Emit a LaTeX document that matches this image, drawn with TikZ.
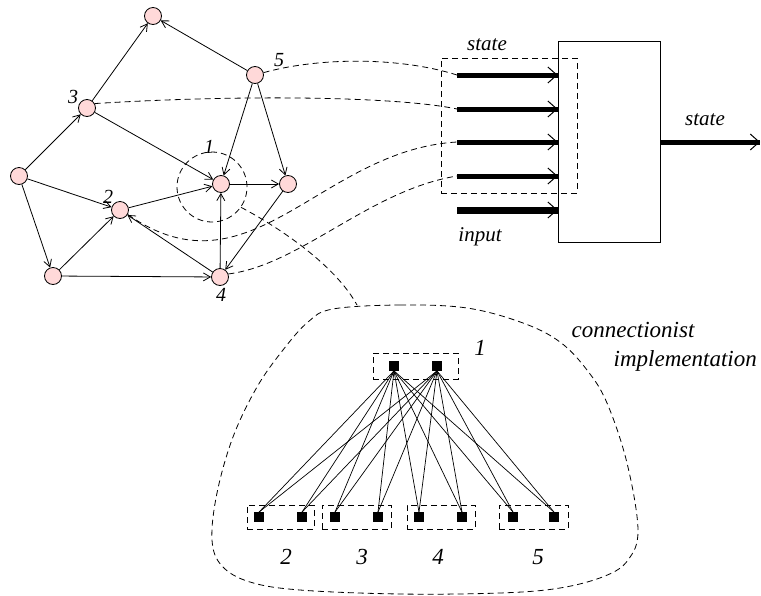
\documentclass[tikz,border=0pt]{standalone}
\usepackage{fontspec}
\setmainfont{Liberation Serif}
\usetikzlibrary{arrows.meta, positioning}

\begin{document}
\begin{tikzpicture}[x=1pt, y=-1pt, line width=0.8pt,
    every node/.style={font={\fontsize{21}{24}\selectfont\itshape}},
    >={Straight Barb[length=7pt, width=8pt]},
    vert/.style={draw, circle, fill=red!15, minimum size=17pt, inner sep=0pt},
    unit/.style={draw, fill=black, minimum size=9pt, inner sep=0pt},
    group/.style={draw, dash pattern=on 6pt off 4pt, line width=0.7pt, inner sep=0pt},
    link/.style={dash pattern=on 6pt off 4pt, line width=0.8pt},
    small/.style={font={\fontsize{20}{24}\selectfont\itshape}},
    big/.style={font={\fontsize{23}{27}\selectfont\itshape}},
    bus/.style={line width=5pt, postaction={draw, line width=1pt, -{Straight Barb[length=9pt, width=16pt]}}}]
    \useasboundingbox (0,0) rectangle (761,595);

    \node[vert] (top) at (153,16) {};
    \node[vert] (n5) at (255,75) {};
    \node[vert] (n3) at (87,108) {};
    \node[vert] (lft) at (19,176) {};
    \node[vert] (n2) at (120,210) {};
    \node[vert] (n1) at (221,184) {};
    \node[vert] (rgt) at (288,184) {};
    \node[vert] (bot) at (53,276) {};
    \node[vert] (n4) at (220,277) {};
    \node[draw, circle, dash pattern=on 6pt off 4pt, minimum size=70pt, inner sep=0pt] (focus) at (212,187) {};

    \node[small] (l3) at (73,97) {3};
    \node[small] (l5) at (279,60) {5};
    \node[small] (l1) at (209,147) {1};
    \node[small] (l2) at (108,197) {2};
    \node[small] (l4) at (221,295) {4};

    \draw[->] (n5) -- (top);
    \draw[->] (n3) -- (top);
    \draw[->] (lft) -- (n3);
    \draw[->] (lft) -- (n2);
    \draw[->] (lft) -- (bot);
    \draw[->] (n3) -- (n1);
    \draw[->] (n5) -- (n1);
    \draw[->] (n5) -- (rgt);
    \draw[->] (n1) -- (rgt);
    \draw[->] (n2) -- (n1);
    \draw[->] (rgt) -- (n4);
    \draw[->] (n4) -- (n1);
    \draw[->] (n4) -- (n2);
    \draw[->] (bot) -- (n2);
    \draw[->] (bot) -- (n4);

    \node[draw, minimum width=102pt, minimum height=201pt, inner sep=0pt] (block) at (609,142) {};
    \node[group, minimum width=136pt, minimum height=135pt] (statebox) at (509,125.5) {};
    \node (statein) at (487,45) {state};
    \node (input) at (480,237) {input};
    \node (stateout) at (705,120) {state};

    \coordinate (s1) at (457,75);
    \coordinate (s2) at (457,109);
    \coordinate (s3) at (457,142);
    \coordinate (s4) at (457,176);
    \coordinate (s5) at (457,210);
    \coordinate (outend) at (760,142);

    \draw[bus] (s1) -- (s1 -| block.west);
    \draw[bus] (s2) -- (s2 -| block.west);
    \draw[bus] (s3) -- (s3 -| block.west);
    \draw[bus] (s4) -- (s4 -| block.west);
    \draw[bus, line width=7pt] (s5) -- (s5 -| block.west);
    \draw[bus] (block.east) -- (outend);

    \draw[link] (n5) .. controls (320,57) and (400,57) .. (s1);
    \draw[link] (n3.30) .. controls (250,94) and (400,97) .. (s2);
    \draw[link] (n2.-30) .. controls (250,300) and (320,150) .. (s3);
    \draw[link] (n4.20) .. controls (300,265) and (370,190) .. (s4);

    \coordinate (blobtop) at (357,305);
    \draw[link] (focus.-35) .. controls (280,228) and (335,265) .. (blobtop);
    \draw[link] plot[smooth cycle, tension=0.6] coordinates {(333,309) (400,305) (467,308) (523,323) (560,342) (587,370) (607,403) (627,463) (638,530) (628,560) (605,576) (560,588) (500,593) (400,594) (300,590) (250,582) (222,566) (212,540) (217,493) (233,437) (257,387) (283,350) (308,322)};

    \node[group, minimum width=85pt, minimum height=26pt] (g1) at (415.5,366) {};
    \node[group, minimum width=67pt, minimum height=24pt] (g2) at (280.5,517) {};
    \node[group, minimum width=69pt, minimum height=24pt] (g3) at (356.5,517) {};
    \node[group, minimum width=68pt, minimum height=24pt] (g4) at (441,517) {};
    \node[group, minimum width=69pt, minimum height=24pt] (g5) at (533.5,517) {};

    \node[unit] (a1) at (394,366) {};
    \node[unit] (a2) at (437,366) {};
    \node[unit] (b1) at (259,517) {};
    \node[unit] (b2) at (302,517) {};
    \node[unit] (b3) at (335,517) {};
    \node[unit] (b4) at (378,517) {};
    \node[unit] (b5) at (419,517) {};
    \node[unit] (b6) at (462,517) {};
    \node[unit] (b7) at (513,517) {};
    \node[unit] (b8) at (554,517) {};

    \draw[line width=0.7pt] (a1.south) edge (b1.north) edge (b2.north) edge (b3.north) edge (b4.north)
        edge (b5.north) edge (b6.north) edge (b7.north) edge (b8.north);
    \draw[line width=0.7pt] (a2.south) edge (b1.north) edge (b2.north) edge (b3.north) edge (b4.north)
        edge (b5.north) edge (b6.north) edge (b7.north) edge (b8.north);

    \node[big] (g1lbl) at (480,348) {1};
    \node[big] (g2lbl) at (286,557) {2};
    \node[big] (g3lbl) at (362,557) {3};
    \node[big] (g4lbl) at (438,557) {4};
    \node[big] (g5lbl) at (538,557) {5};
    \node[big, anchor=base west] (conn) at (568,337) {connectionist};
    \node[big, anchor=base west] (impl) at (610,366) {implementation};
\end{tikzpicture}
\end{document}
